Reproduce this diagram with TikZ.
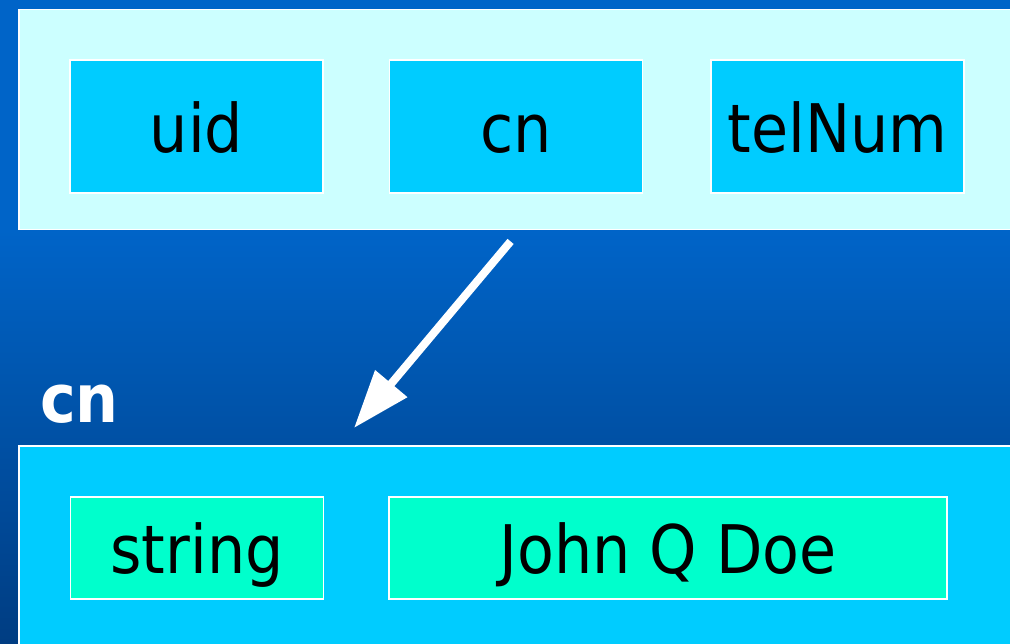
\documentclass[tikz,border=0pt]{standalone}
\usepackage{fontspec}
\setmainfont{DejaVu Sans Condensed}
\usetikzlibrary{positioning,calc,arrows.meta}

\definecolor{bgtop}{HTML}{0064C8}
\definecolor{bgmid}{HTML}{005BBA}
\definecolor{bgbot}{HTML}{003D82}
\definecolor{paleCyan}{HTML}{CCFFFF}
\definecolor{skyCyan}{HTML}{00CCFF}
\definecolor{aquaGreen}{HTML}{00FFCC}

\tikzset{
	panel/.style={draw=white, line width=1.5pt, anchor=north west, inner sep=0pt},
	attr/.style={draw=white, line width=1.5pt, fill=skyCyan, minimum width=253pt, minimum height=133pt,
		inner sep=0pt, font=\fontsize{67}{70}\selectfont, text height=52pt, text depth=0pt},
	val/.style={attr, fill=aquaGreen, minimum height=102pt, text height=50pt},
	flow/.style={draw=white, line width=8pt, line cap=rect, -{Triangle[length=58pt,width=40pt]}}
}

\begin{document}
\begin{tikzpicture}[x=1pt,y=-1pt]
		\useasboundingbox (0,0) rectangle (1010,644);
		\fill[bgtop] (0,0) rectangle (1010,231);
		\shade[top color=bgtop, middle color=bgmid, bottom color=bgbot] (0,230) rectangle (1010,644);
		% attribute list and the cn attribute
		\node[panel, fill=paleCyan, minimum width=1000pt, minimum height=220pt] (attrs) at (18,9) {};
		\node[panel, fill=skyCyan, minimum width=1000pt, minimum height=210pt] (cnattr) at (18,445) {};
		\node[attr] (uid) at (196.5,126.5) {uid};
		\node[attr, right=65pt of uid] (cn) {cn};
		\node[attr, right=67pt of cn] (telNum) {telNum};
		\node[val] (type) at (197,548) {string};
		\node[val, minimum width=558pt, right=64pt of type] (value) {John Q Doe};
		\node[anchor=base west, inner sep=0pt, text=white, font=\fontsize{67}{70}\selectfont\bfseries] (cnlabel) at (40,422) {cn};
		\coordinate (from) at ($(attrs.south west)+(490,14)$);
		\coordinate (to) at ($(cnattr.north west)+(336,-17)$);
		\draw[flow] (from) -- (to);
	\end{tikzpicture}
\end{document}
